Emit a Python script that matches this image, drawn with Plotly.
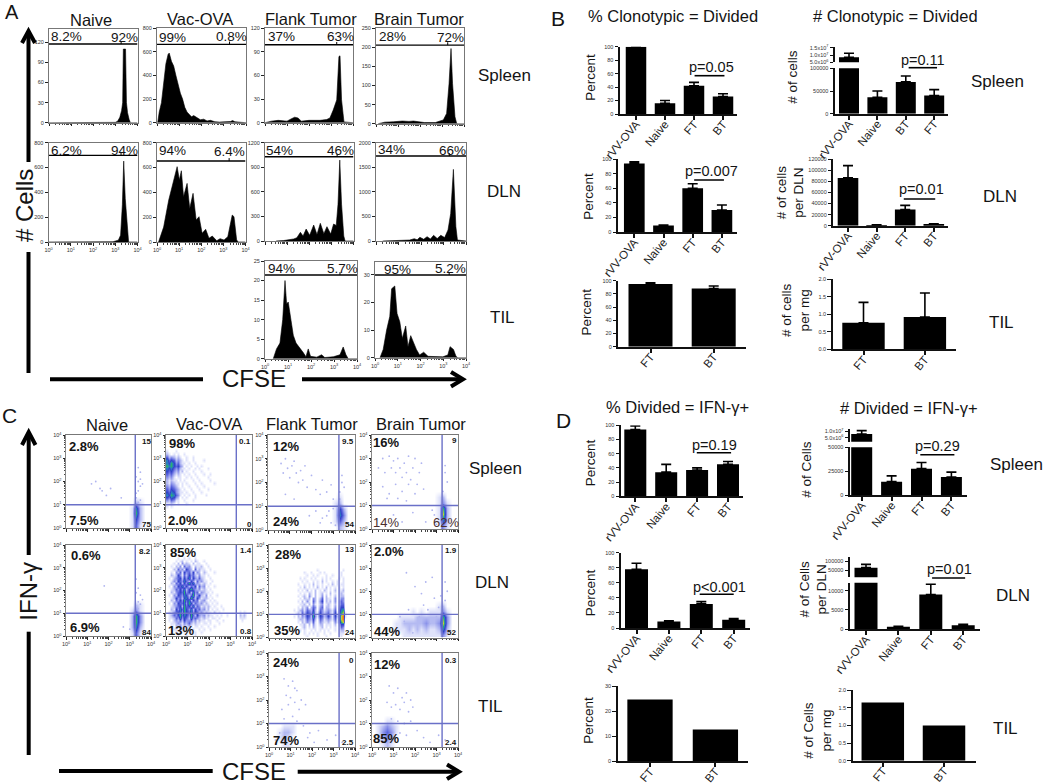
import math
import plotly.graph_objects as go

W, H = 1050, 784
FONT = "Liberation Sans"
DECADES = [0, 1, 2, 3, 4]
DECADE_TEXT = ["10<sup>%d</sup>" % d for d in DECADES]

# ---------- Panel A: CFSE histograms (decade, count) ----------
A_NAIVE_SPLEEN_X = [0, 2.0, 3.0, 3.1, 3.2, 3.28, 3.33, 3.36, 3.46, 3.5, 3.55, 3.62, 3.68, 4]
A_NAIVE_SPLEEN_Y = [0, 0.3, 0.5, 2, 8, 18, 30, 110, 110, 30, 15, 5, 0, 0]
A_VAC_SPLEEN_X = [0.03, 0.1, 0.2, 0.3, 0.4, 0.5, 0.55, 0.65, 0.75, 0.85, 0.95, 1.05, 1.15, 1.25, 1.35, 1.45, 1.55, 1.65, 1.8, 1.95, 2.1, 2.25, 2.4, 2.6, 2.8, 3.0, 3.3, 3.4, 3.5, 3.8, 4]
A_VAC_SPLEEN_Y = [0, 90, 170, 340, 500, 580, 590, 520, 480, 400, 320, 250, 200, 130, 90, 65, 50, 60, 45, 25, 30, 15, 20, 8, 5, 5, 10, 18, 8, 3, 0]
A_FLANK_SPLEEN_X = [0, 0.3, 0.6, 1.0, 1.2, 1.35, 1.5, 1.65, 2.0, 2.5, 2.8, 2.95, 3.1, 3.26, 3.36, 3.41, 3.48, 3.59, 4]
A_FLANK_SPLEEN_Y = [0, 2, 3, 2, 5, 7, 6, 2, 3, 3, 4, 6, 16, 29, 84, 85, 29, 1, 0]
A_BRAIN_SPLEEN_X = [0.1, 0.4, 0.8, 1.2, 1.5, 1.7, 2.2, 2.7, 3.06, 3.21, 3.32, 3.41, 3.48, 3.59, 3.67, 4]
A_BRAIN_SPLEEN_Y = [0, 4, 5, 7, 6, 7, 3, 3, 10, 27, 105, 197, 105, 18, 0, 0]

A_NAIVE_DLN_X = [0, 1.0, 2.9, 3.14, 3.24, 3.32, 3.38, 3.45, 3.55, 3.6, 4]
A_NAIVE_DLN_Y = [0, 2, 2, 15, 55, 300, 652, 350, 50, 0, 0]
A_VAC_DLN_X = [0.07, 0.3, 0.53, 0.76, 0.91, 1.01, 1.1, 1.2, 1.36, 1.48, 1.63, 1.77, 1.9, 2.04, 2.2, 2.35, 2.5, 2.7, 2.85, 3.03, 3.2, 3.4, 3.48, 3.6, 3.67, 4]
A_VAC_DLN_Y = [0, 120, 338, 500, 607, 500, 574, 365, 472, 270, 392, 177, 204, 70, 102, 30, 48, 10, 27, 16, 43, 217, 204, 16, 0, 0]
A_FLANK_DLN_X = [0.5, 0.83, 1.3, 1.44, 1.6, 1.72, 1.86, 2.02, 2.2, 2.35, 2.5, 2.66, 2.8, 2.97, 3.1, 3.22, 3.3, 3.38, 3.46, 3.56, 3.62, 4]
A_FLANK_DLN_Y = [0, 5, 25, 40, 106, 60, 146, 70, 195, 80, 216, 90, 175, 85, 207, 190, 450, 988, 450, 60, 0, 0]
A_BRAIN_DLN_X = [0.3, 1.0, 1.5, 1.7, 1.83, 1.95, 2.12, 2.27, 2.42, 2.56, 2.72, 2.88, 3.05, 3.2, 3.32, 3.44, 3.55, 3.62, 4]
A_BRAIN_DLN_Y = [0, 10, 20, 47, 25, 75, 35, 88, 40, 115, 50, 115, 70, 224, 560, 1457, 290, 20, 0]

A_FLANK_TIL_X = [0.36, 0.5, 0.65, 0.77, 0.87, 0.94, 1.01, 1.12, 1.23, 1.35, 1.52, 1.67, 1.78, 1.88, 1.98, 2.25, 2.46, 2.6, 2.97, 3.26, 3.4, 3.52, 3.62, 4]
A_FLANK_TIL_Y = [0, 2.5, 4, 10, 20, 14, 14.5, 10, 6, 4, 2.8, 1.5, 0.5, 2.5, 0.6, 0.4, 1, 0.3, 0.5, 1, 3, 1, 0, 0]
A_BRAIN_TIL_X = [0.22, 0.36, 0.51, 0.65, 0.73, 0.87, 0.97, 1.09, 1.2, 1.35, 1.45, 1.57, 1.67, 1.82, 1.96, 2.14, 2.33, 2.69, 2.98, 3.2, 3.3, 3.45, 3.56, 3.64, 4]
A_BRAIN_TIL_Y = [0, 3, 10, 15, 25, 26, 16, 13, 7, 11.5, 4, 8, 6, 3, 1, 2, 0.5, 0.5, 0.3, 1, 4, 3, 0.5, 0, 0]

# ---------- Panel C: density grids, top row = highest IFN-gamma ----------
C_NAIVE_SPLEEN = ["0"*20]*11 + ["00000000000000002100", "00000000000000016200", "00000000000000017200", "00000000000000015200", "00000000000000014100"]
C_FLANK_SPLEEN = ["0"*20]*10 + ["00000000000000001000", "00000000000000012000", "00000000000000015200", "00000000000000016300", "00000000000000014200", "00000000000000002100"]
C_BRAIN_SPLEEN = ["0"*20]*10 + ["00000000000000012000", "00000000000000013100", "00000000000000017200", "00000000000000018200", "00000000000000016200", "00000000000000003100"]
C_NAIVE_DLN = ["0"*20]*10 + ["00000000000000002100", "00000000000000013100", "00000000000000027300", "00000000000000027300", "00000000000000026200", "00000000000000014100"]
C_BRAIN_DLN = ["0"*20]*10 + ["00000000000000012000", "00000000010101113100", "00000011112222227300", "00000112222232238300", "00000111212121126200", "00000001111111113100"]
C_FLANK_TIL = ["0"*20]*12 + ["00011100000000000000", "00122100000000000000", "00121000000000000000", "00011000000000000000"]
C_BRAIN_TIL = ["0"*20]*11 + ["00011000000000000000", "01232100000000000000", "01343100000000000000", "01232000000000000000", "00121000000000000000"]
# finer grids for the three crowded panels
C_VAC_SPLEEN = ["0"*40]*5 + [
    "1000100000000000000000000000000000000000",
    "2101010010000000000000000000000000000000",
    "4232121001001000000000000000000000000000",
    "6454232101001000010000000000000000000000",
    "6575342110100100000000000000000000000000",
    "7675453201010010100000000000000000000000",
    "6564342110100101000100000000000000000000",
    "5453231201001000100000000000000000000000",
    "4342121010100100010010000000000000000000",
    "3231011001010010000100000000000000000000",
    "2121101010001001000010000000000000000000",
    "2132110101000100100000100000000000000000",
    "3243210100100010010000000000000000000000",
    "4354321010010001000100000000000000000000",
    "5465321101001000100000000000000000000000",
    "6576431010100100001000000000000000000000",
    "5465320101000100000000000000000000000000",
    "3243110010001000000000000000000000000000",
    "1121010001000000000000000000000000000000",
    "1010000000000000000000000000000000000000"] + ["0"*40]*7
C_VAC_DLN = ["0"*40]*4 + [
    "0000010010100100000000000000000000000000",
    "0000101201010210010000000000000000000000",
    "0001020312102011001000000000000000000000",
    "0010213042310211200100000000000000000000",
    "0002142315320412110010000000000000000000",
    "0010324153425132021000100000000000000000",
    "0021253142534213110100000000000000000000",
    "0102345253625324210010000000000000000000",
    "0013254364253142311001000000000000000000",
    "0021435253746232121010000000000000000000",
    "0103254635243514230100100000000000000000",
    "0012435362574323121010000000000000000000",
    "0021345473526341321101000000000000000000",
    "0103254365247235213010010000000000000000",
    "0012534256374253122101000000000000000000",
    "0021435374625341231010100000000000000000",
    "0103254463752432312101010000000000000000",
    "0012345274536243121210100100000000000000",
    "0021536475362534231201010010000000000000",
    "0113456375463542312110201000000000101000",
    "0124357465374253231211010100100000212000",
    "0112436354263432121101101000000000111000",
    "0102324253342312110110010010000000010000",
    "0011232132421211011010001000000000000000",
    "0010213121210110100100100000000000000000",
    "0001102110101001010010000000000000000000",
    "0000101010010100100000000000000000000000",
    "0000010001000100000000000000000000000000"]
C_FLANK_DLN = ["0"*40]*8 + [
    "0000000000000000000000100000000000100000",
    "0000000000000000100100010100000001000000",
    "0000000000000000010010100010010001000000",
    "0000000000000010100101001010100010100000",
    "0000000000000001010010102010010100100000",
    "0000000000000100101020101001020101100000",
    "0000000000000010201010201020101010100000",
    "0000000000000101020102010210102011200000",
    "0000000000000010102102012010201012100000",
    "0000000000000101203102013020102012200000",
    "0000000000000010212032024021103013300000",
    "0000000000000102031042035021203024300000",
    "0000000000000011202031023012102024400000",
    "0000000000000102130243034022103035500000",
    "0000000000010123143252043123214046700000",
    "0000000000001214254362153234215147810000",
    "0000000000010213254273154235315248910000",
    "0000000000000122143252043123214148900000",
    "0000000000000102132141032112103137800000",
    "0000000000000011202031022011102025500000",
    "0000000000000001201021012010101014300000",
    "0000000000000010100101010101001012200000",
    "0000000000000000101010100100100011100000",
    "0000000000000000010000100010000001000000"]

# ---------- Panel C: individual events (decade, decade) ----------
DOTS_NAIVE_SPLEEN_X = [1.2, 1.4, 1.6, 1.7, 1.9, 2.1, 3.3, 3.4, 3.5, 3.4, 3.3, 3.5, 3.4, 3.6, 3.3, 3.5, 2.6, 3.4, 3.5]
DOTS_NAIVE_SPLEEN_Y = [1.9, 2.0, 1.7, 1.6, 1.4, 1.7, 1.3, 1.6, 1.8, 2.0, 2.2, 2.4, 2.6, 1.9, 1.5, 1.2, 1.3, 1.1, 2.1]
DOTS_FLANK_SPLEEN_X = [0.6, 0.7, 0.8, 0.9, 1.0, 1.1, 1.2, 1.3, 1.4, 1.5, 1.6, 1.7, 1.8, 2.0, 2.2, 2.4, 2.5, 2.7, 2.9, 3.0, 3.3, 3.4, 3.5, 3.4, 3.3, 2.2, 2.5, 2.7, 2.9, 3.0, 1.9, 2.4, 2.8, 3.1, 0.8, 1.2]
DOTS_FLANK_SPLEEN_Y = [2.8, 2.4, 3.0, 2.6, 2.2, 2.7, 2.9, 2.4, 2.0, 2.5, 2.1, 2.7, 1.8, 2.3, 1.7, 1.5, 2.1, 1.6, 1.9, 1.3, 1.6, 2.0, 1.8, 2.3, 1.3, 0.8, 0.5, 0.6, 0.3, 0.9, 0.6, 0.3, 0.8, 0.2, 1.5, 1.3]
DOTS_BRAIN_SPLEEN_X = [0.3, 0.5, 0.6, 0.8, 0.9, 1.0, 1.1, 1.2, 1.3, 1.4, 1.5, 1.6, 1.7, 1.8, 1.9, 2.0, 2.1, 2.2, 2.3, 0.5, 0.8, 1.1, 1.4, 1.7, 2.0, 2.4, 0.7, 1.2, 1.6, 3.4, 3.5, 3.4, 3.3, 1.0, 1.4, 1.9, 2.5, 2.9, 3.0, 0.2, 2.8]
DOTS_BRAIN_SPLEEN_Y = [2.6, 3.0, 2.4, 3.1, 2.6, 2.9, 2.4, 3.0, 2.6, 2.2, 2.8, 2.4, 3.1, 2.1, 2.6, 3.0, 1.9, 2.4, 2.8, 1.8, 1.5, 1.9, 1.6, 1.9, 1.5, 1.7, 1.3, 1.3, 1.2, 2.4, 2.0, 2.7, 1.6, 0.6, 0.3, 0.7, 0.3, 0.6, 0.2, 0.4, 0.8]
DOTS_NAIVE_DLN_X = [1.8, 3.3, 3.4, 3.5, 3.4, 3.3, 3.5, 3.4, 3.6, 3.3, 2.7, 3.0]
DOTS_NAIVE_DLN_Y = [2.2, 1.3, 1.5, 1.8, 2.1, 2.5, 1.4, 1.2, 1.6, 1.9, 0.4, 0.3]
DOTS_BRAIN_DLN_X = [1.1, 1.5, 1.9, 2.2, 2.4, 2.7, 2.9, 3.1, 3.4, 3.5, 3.4, 3.3, 1.3, 1.7, 2.0, 2.3, 2.6, 2.8, 3.0, 3.2, 1.6, 2.5]
DOTS_BRAIN_DLN_Y = [0.3, 0.7, 0.2, 0.9, 1.4, 0.6, 1.7, 1.3, 1.6, 2.0, 2.4, 1.3, 0.9, 1.2, 2.2, 1.9, 1.2, 2.6, 0.9, 1.8, 2.8, 2.4]
DOTS_FLANK_TIL_X = [0.7, 0.9, 1.1, 1.3, 0.8, 1.0, 1.2, 1.5, 0.6, 0.9, 1.4, 1.7, 1.1, 1.3, 0.7, 1.6, 1.9, 2.3, 2.7, 3.1, 3.4, 1.2, 0.5, 0.3, 1.8, 2.1]
DOTS_FLANK_TIL_Y = [2.9, 2.6, 2.8, 2.4, 2.2, 2.1, 1.9, 2.0, 1.6, 1.8, 1.6, 1.8, 1.3, 1.1, 1.2, 0.9, 0.6, 0.7, 0.3, 0.5, 0.2, 2.5, 0.6, 0.3, 0.4, 0.2]
DOTS_BRAIN_TIL_X = [0.8, 1.0, 1.2, 1.4, 1.6, 1.8, 0.7, 0.9, 1.1, 1.3, 1.5, 1.7, 1.9, 0.9, 1.2, 1.5, 1.8, 2.1, 2.4, 2.7, 3.1, 3.4, 0.4, 1.3, 1.6]
DOTS_BRAIN_TIL_Y = [2.6, 2.3, 2.5, 2.1, 2.3, 2.0, 1.9, 1.7, 1.8, 1.6, 1.9, 1.5, 1.7, 1.2, 1.1, 1.0, 1.1, 0.7, 0.4, 0.2, 0.5, 0.3, 0.4, 0.6, 0.5]

# ---------- Panels B and D: bar data ----------
CATS_1 = ["rVV-OVA", "Naive", "FT", "BT"]
CATS_2 = ["rVV-OVA", "Naive", "BT", "FT"]
CATS_TIL = ["FT", "BT"]
B_PCT_SPLEEN = [100, 16, 42, 26];       B_PCT_SPLEEN_ERR = [0, 4, 5, 4]
B_PCT_DLN = [94, 9, 60, 30];            B_PCT_DLN_ERR = [2, 0.5, 6, 7]
B_PCT_TIL = [95, 88];                   B_PCT_TIL_ERR = [2, 4]
B_NUM_SPLEEN = [8400000, 36000, 70000, 40000]; B_NUM_SPLEEN_ERR = [2800000, 14000, 13000, 13000]
B_NUM_DLN = [86000, 1000, 29000, 2500]; B_NUM_DLN_ERR = [22000, 500, 7500, 1000]
B_NUM_TIL = [0.76, 0.92];               B_NUM_TIL_ERR = [0.58, 0.69]
D_PCT_SPLEEN = [94, 34, 37, 45];        D_PCT_SPLEEN_ERR = [5, 11, 3, 4]
D_PCT_DLN = [78, 8.5, 32, 11];          D_PCT_DLN_ERR = [8, 1, 3, 1.5]
D_PCT_TIL = [24.6, 12.7]
D_NUM_SPLEEN = [7900000, 14000, 27600, 18900]; D_NUM_SPLEEN_ERR = [2600000, 6000, 6400, 5100]
D_NUM_DLN = [64800, 600, 9000, 1000];   D_NUM_DLN_ERR = [18200, 100, 2700, 200]
D_NUM_TIL = [1.65, 1.0]

fig = go.Figure()
axes_layout, annotations, shapes = {}, [], []
counter = [0]


def fx(x):
    return x / W


def fy(y):
    return 1 - y / H


def new_axes(l, r, t, b, xaxis, yaxis):
    counter[0] += 1
    n = counter[0]
    s = "" if n == 1 else str(n)
    axes_layout["xaxis" + s] = dict(domain=[fx(l), fx(r)], anchor="y" + s, showgrid=False, zeroline=False, **xaxis)
    axes_layout["yaxis" + s] = dict(domain=[fy(b), fy(t)], anchor="x" + s, showgrid=False, zeroline=False, **yaxis)
    return "x" + s, "y" + s


def text(x, y, s, size=15, bold=False, angle=0, color="#141414"):
    annotations.append(dict(x=fx(x), y=fy(y), xref="paper", yref="paper", text="<b>%s</b>" % s if bold else s,
                            showarrow=False, xanchor="center", yanchor="middle", textangle=angle,
                            font=dict(family=FONT, size=size, color=color), borderpad=0))


def bar_line(x0, y0, x1, y1, width=4):
    shapes.append(dict(type="line", xref="paper", yref="paper", x0=fx(x0), y0=fy(y0), x1=fx(x1), y1=fy(y1),
                       line=dict(color="#000000", width=width)))


def chevron(pts, width=4):
    path = "M " + " L ".join("%.5f %.5f" % (fx(a), fy(b)) for a, b in pts)
    shapes.append(dict(type="path", xref="paper", yref="paper", path=path, line=dict(color="#000000", width=width)))


MINOR = [d + math.log10(k) for d in range(4) for k in range(2, 10)]


def flow_xaxis(labels):
    return dict(range=[0, 4], tickmode="array", tickvals=DECADES, ticktext=DECADE_TEXT, showticklabels=labels,
                tickfont=dict(family=FONT, size=5.5, color="#333333"), ticks="outside", ticklen=2.5, tickwidth=1,
                tickcolor="#222222", showline=True, mirror=True, linecolor="#777777", linewidth=1,
                minor=dict(tickvals=MINOR, ticks="outside", ticklen=1.5, tickcolor="#444444", tickwidth=0.7))


def hist_panel(l, r, t, b, x, y, ymax, ticks, gate, split, labels, gate_end=4):
    xa = flow_xaxis(labels)
    ya = dict(range=[0, ymax], tickmode="array", tickvals=ticks, tickfont=dict(family=FONT, size=5.5, color="#333333"),
              ticks="outside", ticklen=3, tickwidth=1, tickcolor="#222222", showline=True, mirror=True,
              linecolor="#777777", linewidth=1)
    xr, yr = new_axes(l, r, t, b, xa, ya)
    fig.add_trace(go.Scatter(x=x, y=y, mode="lines", fill="tozeroy", fillcolor="#000000",
                             line=dict(color="#000000", width=0.6), xaxis=xr, yaxis=yr, hoverinfo="skip", showlegend=False))
    fig.add_trace(go.Scatter(x=[0, gate_end], y=[gate, gate], mode="lines", line=dict(color="#000000", width=1.4),
                             xaxis=xr, yaxis=yr, hoverinfo="skip", showlegend=False))
    fig.add_trace(go.Scatter(x=[split, split], y=[gate, gate + ymax * 0.03], mode="lines", line=dict(color="#000000", width=1),
                             xaxis=xr, yaxis=yr, hoverinfo="skip", showlegend=False))


# Panel A: pixel box left, right, top, bottom
hist_panel(49, 137.5, 29, 122.7, A_NAIVE_SPLEEN_X, A_NAIVE_SPLEEN_Y, 140, [0, 30, 60, 90, 120], 117.5, 3.26, False)
hist_panel(157, 246, 28.3, 122.7, A_VAC_SPLEEN_X, A_VAC_SPLEEN_Y, 800, [0, 200, 400, 600, 800], 664, 3.26, False)
hist_panel(265, 353, 28.3, 122.7, A_FLANK_SPLEEN_X, A_FLANK_SPLEEN_Y, 120, [0, 30, 60, 90, 120], 99, 3.26, False)
hist_panel(376, 464, 28.3, 123.7, A_BRAIN_SPLEEN_X, A_BRAIN_SPLEEN_Y, 250, [0, 50, 100, 150, 200, 250], 206, 3.26, False)
hist_panel(48.5, 137.5, 142.7, 242, A_NAIVE_DLN_X, A_NAIVE_DLN_Y, 800, [0, 200, 400, 600, 800], 698, 3.26, True)
hist_panel(157, 245.5, 142.7, 242, A_VAC_DLN_X, A_VAC_DLN_Y, 800, [0, 200, 400, 600, 800], 652, 3.26, True)
hist_panel(265, 353.5, 142.7, 241, A_FLANK_DLN_X, A_FLANK_DLN_Y, 1200, [0, 300, 600, 900, 1200], 1029, 3.26, False)
hist_panel(376, 466, 142.7, 241, A_BRAIN_DLN_X, A_BRAIN_DLN_Y, 2000, [0, 500, 1000, 1500, 2000], 1729, 3.26, False)
hist_panel(265, 357, 261, 358.7, A_FLANK_TIL_X, A_FLANK_TIL_Y, 25, [0, 5, 10, 15, 20, 25], 21.4, 3.26, True)
hist_panel(375, 466, 262, 357.7, A_BRAIN_TIL_X, A_BRAIN_TIL_Y, 34.7, [0, 10, 20, 30], 30, 3.26, True)

COLORS = [[0, "#ffffff"], [1 / 9, "#dfe2fa"], [2 / 9, "#b4baf2"], [3 / 9, "#8a92ea"], [4 / 9, "#5a64dc"],
          [5 / 9, "#3344c8"], [6 / 9, "#2a7cc0"], [7 / 9, "#2bb070"], [8 / 9, "#c8d030"], [1, "#f07020"]]


def density_panel(l, r, t, b, grid, dots_x, dots_y, labels, gx=3.26, gy=1.0):
    xa = flow_xaxis(labels)
    ya = dict(range=[0, 4], tickmode="array", tickvals=DECADES, ticktext=DECADE_TEXT,
              tickfont=dict(family=FONT, size=5.5, color="#333333"), ticks="outside", ticklen=2.5, tickwidth=1,
              tickcolor="#222222", showline=True, mirror=True, linecolor="#888888", linewidth=1,
              minor=dict(tickvals=MINOR, ticks="outside", ticklen=1.5, tickcolor="#444444", tickwidth=0.7))
    xr, yr = new_axes(l, r, t, b, xa, ya)
    nx, ny = len(grid[0]), len(grid)
    z = [[int(c) for c in row.ljust(nx, "0")[:nx]] for row in reversed(grid)]
    xc = [(i + 0.5) * 4 / nx for i in range(nx)]
    yc = [(j + 0.5) * 4 / ny for j in range(ny)]
    fig.add_trace(go.Heatmap(x=xc, y=yc, z=z, zmin=0, zmax=9, colorscale=COLORS, zsmooth="best", showscale=False,
                             xaxis=xr, yaxis=yr, hoverinfo="skip"))
    if dots_x:
        fig.add_trace(go.Scatter(x=dots_x, y=dots_y, mode="markers", marker=dict(size=1.8, color="#b0b5f0", line=dict(width=0)),
                                 xaxis=xr, yaxis=yr, hoverinfo="skip", showlegend=False))
    for xs, ys in (([gx, gx], [0, 4]), ([0, 4], [gy, gy])):
        fig.add_trace(go.Scatter(x=xs, y=ys, mode="lines", line=dict(color="#6a70c8", width=1.4), xaxis=xr, yaxis=yr,
                                 hoverinfo="skip", showlegend=False))


density_panel(66, 151, 435, 528, C_NAIVE_SPLEEN, DOTS_NAIVE_SPLEEN_X, DOTS_NAIVE_SPLEEN_Y, False)
density_panel(166, 252, 435, 528, C_VAC_SPLEEN, None, None, False, 3.27)
density_panel(268, 355, 435, 530, C_FLANK_SPLEEN, DOTS_FLANK_SPLEEN_X, DOTS_FLANK_SPLEEN_Y, False)
density_panel(372, 458, 435, 529, C_BRAIN_SPLEEN, DOTS_BRAIN_SPLEEN_X, DOTS_BRAIN_SPLEEN_Y, False)
density_panel(66, 151, 545, 636, C_NAIVE_DLN, DOTS_NAIVE_DLN_X, DOTS_NAIVE_DLN_Y, True)
density_panel(166, 252, 545, 636, C_VAC_DLN, None, None, True, 3.27)
density_panel(269, 355, 545, 637.5, C_FLANK_DLN, None, None, False)
density_panel(372, 458, 545, 637.5, C_BRAIN_DLN, DOTS_BRAIN_DLN_X, DOTS_BRAIN_DLN_Y, False)
density_panel(269, 355, 653, 747, C_FLANK_TIL, DOTS_FLANK_TIL_X, DOTS_FLANK_TIL_Y, True)
density_panel(372, 458, 653, 747, C_BRAIN_TIL, DOTS_BRAIN_TIL_X, DOTS_BRAIN_TIL_Y, True)


def y_axis(ymax_range, ticks, ticktext=None):
    d = dict(range=ymax_range, tickmode="array", tickvals=ticks, tickformat="d",
             tickfont=dict(family=FONT, size=5.5, color="#333333"),
             ticks="outside", ticklen=3.5, tickwidth=1.2, tickcolor="#111111", showline=True,
             linecolor="#111111", linewidth=2)
    if ticktext:
        d["ticktext"] = ticktext
    return d


def bars(xr, yr, idx, vals, errs, width):
    kw = {}
    if errs is not None:
        kw["error_y"] = dict(type="data", array=errs, arrayminus=[0] * len(errs), symmetric=False,
                             color="#000000", thickness=1.6, width=5)
    fig.add_trace(go.Bar(x=idx, y=vals, width=width, marker=dict(color="#000000", line=dict(width=0)), xaxis=xr, yaxis=yr,
                         hoverinfo="skip", showlegend=False, **kw))


def bar_xaxis(l, r, c0, s, cats):
    return dict(range=[(l - c0) / s, (r - c0) / s], tickmode="array", tickvals=list(range(len(cats))), ticktext=cats,
                tickangle=-50, tickfont=dict(family=FONT, size=11.5, color="#222222"), ticks="outside", ticklen=4,
                tickwidth=1.5, tickcolor="#111111", showline=True, linecolor="#111111", linewidth=2,
                ticklabelstandoff=-7)


def p_value(xr, x0, x1, y, label, lx, ly):
    shapes.append(dict(type="line", xref=xr, yref="paper", x0=x0, x1=x1, y0=fy(y), y1=fy(y),
                       line=dict(color="#000000", width=1.6)))
    text(lx, ly, label, size=14.5)


def bar_panel(l, r, t, b, c0, s, w, cats, vals, errs, yrange, ticks, ticktext=None):
    xr, yr = new_axes(l, r, t, b, bar_xaxis(l, r, c0, s, cats), y_axis(yrange, ticks, ticktext))
    bars(xr, yr, list(range(len(cats))), vals, errs, w / s)
    return xr


def upper_panel(l, r, t, b, c0, s, w, n, val, err, yrange, ticks, ticktext):
    xa = dict(range=[(l - c0) / s, (r - c0) / s], visible=False)
    xr, yr = new_axes(l, r, t, b, xa, y_axis(yrange, ticks, ticktext))
    bars(xr, yr, [0], [val], [err] if err is not None else None, w / s)


PCT = [0, 20, 40, 60, 80, 100]
# Panel B
xr = bar_panel(620, 737, 46.7, 114, 636, 29, 20.5, CATS_1, B_PCT_SPLEEN, B_PCT_SPLEEN_ERR, [0, 100], PCT)
p_value(xr, 2.02, 3.05, 75.7, "p=0.05", 711, 67)
xr = bar_panel(618, 736.7, 159, 232, 634.3, 29.2, 20.7, CATS_1, B_PCT_DLN, B_PCT_DLN_ERR, [0, 100], PCT)
p_value(xr, 2.05, 3.07, 180, "p=0.007", 711.7, 171)
bar_panel(618.3, 745.7, 280.7, 346.7, 650.5, 63.2, 44, CATS_TIL, B_PCT_TIL, B_PCT_TIL_ERR, [0, 100], PCT)
xr = bar_panel(835, 948, 68.3, 113.7, 849, 28.4, 20, CATS_2, B_NUM_SPLEEN, B_NUM_SPLEEN_ERR, [0, 100000], [0, 50000, 100000])
upper_panel(835, 948, 47, 62.3, 849, 28.4, 20, 4, B_NUM_SPLEEN[0], B_NUM_SPLEEN_ERR[0], [5000000, 15500000],
            [5000000, 10000000, 15000000], ["5.0x10<sup>6</sup>", "1.0x10<sup>7</sup>", "1.5x10<sup>7</sup>"])
p_value(xr, 2.1, 3.1, 67.7, "p=0.11", 923.3, 60)
xr = bar_panel(833.3, 948, 159, 225.7, 848, 28.6, 20.6, CATS_1, B_NUM_DLN, B_NUM_DLN_ERR, [0, 120000],
               [0, 20000, 40000, 60000, 80000, 100000, 120000])
p_value(xr, 1.95, 3.05, 199, "p=0.01", 922, 189.3)
bar_panel(832.7, 955.7, 279.3, 349.3, 863.5, 61.4, 42.4, CATS_TIL, B_NUM_TIL, B_NUM_TIL_ERR, [0, 2], [0, 0.5, 1, 1.5, 2],
          ["0.0", "0.5", "1.0", "1.5", "2.0"])
# Panel D
xr = bar_panel(621, 743.3, 425.3, 496.3, 635.3, 30.9, 22, CATS_1, D_PCT_SPLEEN, D_PCT_SPLEEN_ERR, [0, 100], PCT)
p_value(xr, 1.99, 3.1, 452.7, "p=0.19", 714.7, 445)
xr = bar_panel(621, 750, 552.7, 628, 636.5, 32.4, 23, CATS_1, D_PCT_DLN, D_PCT_DLN_ERR, [0, 100], PCT)
p_value(xr, 1.95, 3.0, 594.3, "p&lt;0.001", 719.3, 586.7)
bar_panel(617.7, 747.7, 686, 761.3, 650, 65.4, 45.3, CATS_TIL, D_PCT_TIL, None, [0, 30], [0, 10, 20, 30])
xr = bar_panel(850, 966.7, 447.3, 495, 861.7, 29.9, 21, CATS_1, D_NUM_SPLEEN, D_NUM_SPLEEN_ERR, [0, 50000], [0, 25000, 50000])
upper_panel(850, 966.7, 429, 441.7, 861.7, 29.9, 21, 4, D_NUM_SPLEEN[0], D_NUM_SPLEEN_ERR[0], [1900000, 11800000],
            [5000000, 10000000], ["5.0x10<sup>6</sup>", "1.0x10<sup>7</sup>"])
p_value(xr, 1.96, 3.1, 454.7, "p=0.29", 937.7, 446)
xr = bar_panel(850, 980, 582.7, 629, 866, 32.4, 23, CATS_1, D_NUM_DLN, D_NUM_DLN_ERR, [0, 12100], [0, 5000, 10000])
upper_panel(850, 980, 557, 577.3, 866, 32.4, 23, 4, D_NUM_DLN[0], D_NUM_DLN_ERR[0], [11111, 123900],
            [50000, 100000], ["50000", "100000"])
p_value(xr, 2.04, 3.06, 578, "p=0.01", 949, 569)
bar_panel(852.7, 975.7, 690.3, 760.7, 882.8, 61.2, 42.5, CATS_TIL, D_NUM_TIL, None, [0, 2], [0, 0.5, 1, 1.5, 2],
          ["0.0", "0.5", "1.0", "1.5", "2.0"])

# Text: panel letters
text(12, 12, "A", 20); text(557.7, 18, "B", 21); text(9, 415, "C", 21); text(563, 420, "D", 21)
# Column headers
for s, x, y in (("Naive", 90.7, 20), ("Vac-OVA", 200, 19), ("Flank Tumor", 311, 19), ("Brain Tumor", 419, 19),
                ("Naive", 106.7, 425), ("Vac-OVA", 209, 424), ("Flank Tumor", 311.7, 424), ("Brain Tumor", 420.7, 424)):
    text(x, y, s, 16.5)
for s, x, y in (("% Clonotypic = Divided", 672.7, 16), ("# Clonotypic = Divided", 895, 16.5),
                ("% Divided = IFN-γ+", 677.7, 407.3), ("# Divided = IFN-γ+", 909, 407.7)):
    text(x, y, s, 16.5)
# Row labels
for s, x, y in (("Spleen", 504, 76), ("DLN", 504, 191), ("TIL", 502, 317), ("Spleen", 997.7, 81), ("DLN", 1000, 196),
                ("TIL", 1001.7, 322), ("Spleen", 495.7, 468.7), ("DLN", 492.3, 582.7), ("TIL", 490.3, 706.7),
                ("Spleen", 1016.7, 464), ("DLN", 1013, 595.7), ("TIL", 1005, 728.7)):
    text(x, y, s, 17)
# Percent labels panel A
for s, x, y in (("8.2%", 200, 110), ("92%", 372, 112), ("99%", 517, 112), ("0.8%", 695, 110), ("37%", 845, 110), ("63%", 1022, 110),
                ("28%", 1178, 110), ("72%", 1352, 112), ("6.2%", 200, 452), ("94%", 373, 453), ("94%", 516, 453), ("6.4%", 687, 455),
                ("54%", 838, 452), ("46%", 1020, 452), ("34%", 1175, 448), ("66%", 1358, 450), ("94%", 843, 805), ("5.7%", 1027, 805),
                ("95%", 1192, 808), ("5.2%", 1352, 805)):
    text(x / 3, y / 3, s, 13.5)
# Quadrant labels panel C
for s, x, y in (("2.8%", 253, 170), ("7.5%", 252, 390), ("98%", 547, 160), ("2.0%", 550, 390), ("12%", 857, 168), ("24%", 857, 393),
                ("16%", 1157, 157), ("0.6%", 257, 495), ("6.9%", 255, 712), ("85%", 548, 487), ("13%", 543, 722), ("28%", 863, 493),
                ("35%", 860, 720), ("2.0%", 1167, 485), ("44%", 1160, 725), ("24%", 857, 818), ("74%", 857, 1050), ("12%", 1160, 822),
                ("85%", 1157, 1045)):
    text(x / 3, 390 + y / 3, s, 13, bold=True)
for s, x, y in (("14%", 1157, 398), ("62%", 1337, 398)):
    text(x / 3, 390 + y / 3, s, 13, color="#4a3030")
for s, x, y in (("15", 438, 155), ("75", 438, 403), ("0.1", 736, 155), ("0", 747, 403), ("9.5", 1044, 155), ("54", 1048, 403), ("9", 1362, 152),
                ("8.2", 434, 483), ("84", 438, 727), ("1.4", 738, 480), ("0.8", 737, 725), ("13", 1048, 478), ("24", 1048, 727), ("1.9", 1352, 480),
                ("52", 1355, 727), ("0", 1053, 810), ("2.5", 1044, 1058), ("0.3", 1352, 810), ("2.4", 1352, 1058)):
    text(x / 3, 390 + y / 3, s, 8, bold=True)
# Y titles of bar panels
for s, x, y in (("Percent", 590.7, 77), ("Percent", 587.7, 196), ("Percent", 586.7, 311.7), ("# of cells", 792.7, 77),
                ("# of cells<br>per DLN", 790.5, 192.7), ("# of cells<br>per mg", 795, 310), ("Percent", 590, 463.3),
                ("Percent", 590, 593.3), ("Percent", 589, 720.7), ("# of Cells", 805.7, 469),
                ("# of Cells<br>per DLN", 812.5, 589), ("# of Cells<br>per mg", 818, 730.7)):
    text(x, y, s, 13.5, angle=-90)

# Big axis captions with arrows
text(24, 206, "# Cells", 24, angle=-90)
text(254, 378, "CFSE", 24)
text(29, 591.7, "IFN-γ", 24, angle=-90)
text(254, 771.7, "CFSE", 24)
bar_line(28.5, 373, 28.5, 252); bar_line(28.5, 162, 28.5, 31)
chevron([(22, 43), (28.5, 31), (35, 43)])
bar_line(50, 379.3, 203, 379.3); bar_line(302, 379.3, 462, 379.3)
chevron([(451, 372), (463, 379.3), (451, 386.5)])
bar_line(28.7, 755, 28.7, 631.7); bar_line(28.7, 555, 28.7, 433)
chevron([(22, 445), (28.7, 432), (35.5, 445)])
bar_line(59, 771, 212.7, 771); bar_line(297.7, 771.7, 458, 771.7)
chevron([(447, 764.5), (459, 771.7), (447, 779)])

fig.update_layout(width=W, height=H, margin=dict(l=0, r=0, t=0, b=0, autoexpand=False), paper_bgcolor="#ffffff", plot_bgcolor="#ffffff",
                  showlegend=False, annotations=annotations, shapes=shapes, barmode="overlay", **axes_layout)
fig.write_html("out.html", config={"displayModeBar": False}, post_script="document.body.style.margin='0';")
